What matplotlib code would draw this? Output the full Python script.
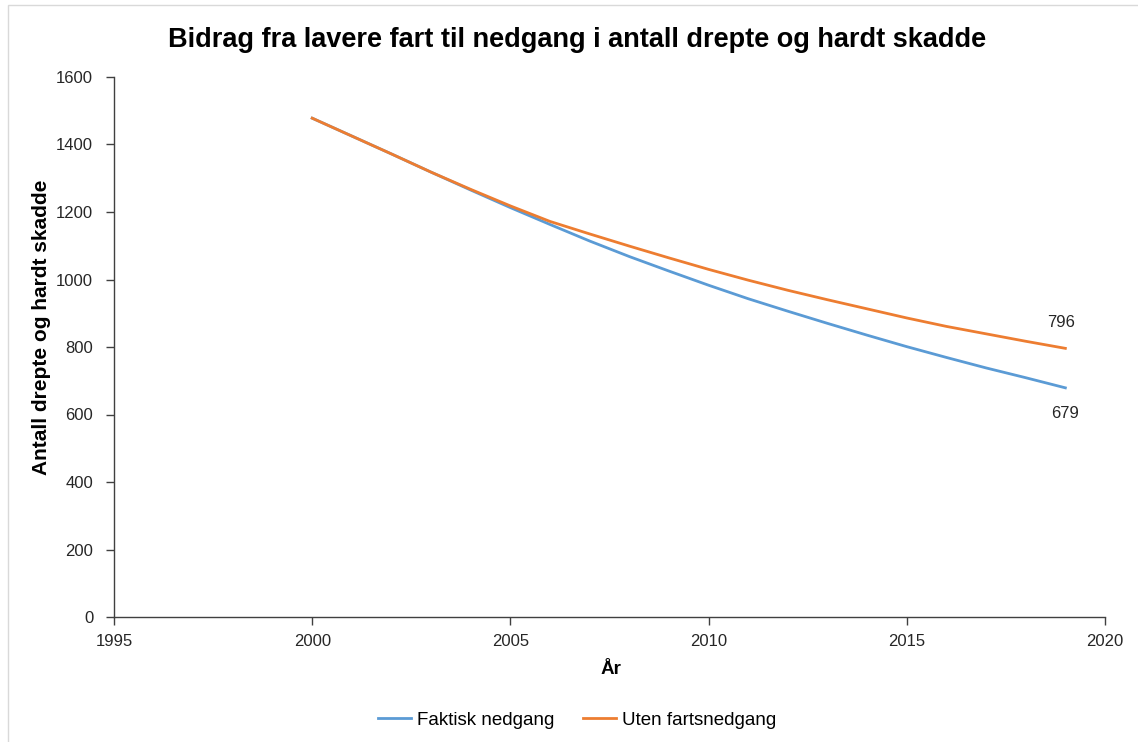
import matplotlib
matplotlib.use("Agg")
import matplotlib.pyplot as plt
from matplotlib.patches import Rectangle

plt.rcParams['font.family'] = ['Liberation Sans', 'DejaVu Sans']

years = list(range(2000, 2020))
faktisk = [1478, 1425, 1372, 1318, 1265, 1213, 1163, 1114, 1068, 1025,
           983, 943, 906, 870, 835, 801, 769, 738, 709, 679]
uten = [1478, 1425, 1372, 1318, 1267, 1218, 1172, 1135, 1099, 1064,
        1030, 998, 968, 940, 913, 886, 861, 839, 817, 796]
series_names = ["Faktisk nedgang", "Uten fartsnedgang"]
colors = ["#5B9BD5", "#ED7D31"]
title = "Bidrag fra lavere fart til nedgang i antall drepte og hardt skadde"
xlabel = "År"
ylabel = "Antall drepte og hardt skadde"

fig = plt.figure(figsize=(11.38, 7.42), dpi=100)
fig.patch.set_facecolor("white")
ax = fig.add_axes([114/1138, 1-617/742, (1105-114)/1138, (617-77)/742])

ax.plot(years, faktisk, color=colors[0], lw=2.0, label=series_names[0])
ax.plot(years, uten, color=colors[1], lw=2.0, label=series_names[1])

ax.set_xlim(1995, 2020)
ax.set_ylim(0, 1600)
ax.set_xticks(range(1995, 2021, 5))
ax.set_yticks(range(0, 1601, 200))
for s in ["top", "right"]:
    ax.spines[s].set_visible(False)
for s in ["left", "bottom"]:
    ax.spines[s].set_color("#404040")
    ax.spines[s].set_linewidth(1.0)
ax.tick_params(axis="both", direction="out", length=6, width=1.0, color="#404040",
               labelsize=12, labelcolor="#262626")
ax.tick_params(axis="y", pad=9)
ax.tick_params(axis="x", pad=6)

ax.annotate(str(uten[-1]), (years[-1], uten[-1]), xytext=(-3, 13), textcoords="offset points",
            ha="center", va="bottom", fontsize=12, color="#262626")
ax.annotate(str(faktisk[-1]), (years[-1], faktisk[-1]), xytext=(0, -13), textcoords="offset points",
            ha="center", va="top", fontsize=12, color="#262626")

fig.text(577/1138, 1-40/742, title, ha="center", va="center", fontsize=19.5, fontweight="bold")
fig.text(611/1138, 1-670/742, xlabel, ha="center", va="center", fontsize=13.5, fontweight="bold")
fig.text(42/1138, 1-327/742, ylabel, ha="center", va="center", rotation=90, fontsize=15, fontweight="bold")

fig.legend(loc="center", bbox_to_anchor=(577/1138, 1-720/742), ncol=2, frameon=False,
           fontsize=13.5, handlelength=1.8, handletextpad=0.3, columnspacing=1.5)

fig.patches.append(Rectangle((8/1138, -0.01), 1.02, 1-5/742+0.01, transform=fig.transFigure,
                             fill=False, edgecolor="#d9d9d9", lw=1.0))

fig.savefig("out.png", dpi=100)
